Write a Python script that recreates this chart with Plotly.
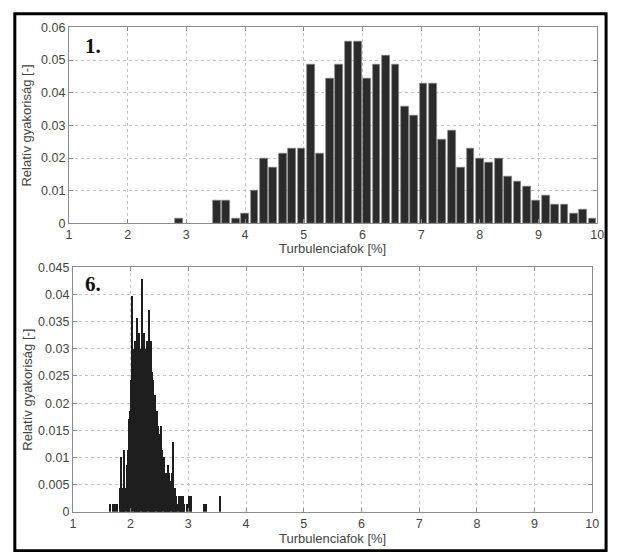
import plotly.graph_objects as go

W, H = 618, 552

# ---- Panel 1 data ----
top_x = [2.88, 3.52, 3.68, 3.84, 4.00, 4.16, 4.32, 4.48, 4.64, 4.80, 4.96, 5.12, 5.28,
         5.44, 5.60, 5.76, 5.92, 6.08, 6.24, 6.40, 6.56, 6.72, 6.88, 7.04, 7.20, 7.36,
         7.52, 7.68, 7.84, 8.00, 8.16, 8.32, 8.48, 8.64, 8.80, 8.96, 9.12, 9.28, 9.44,
         9.60, 9.76, 9.92]
top_y = [0.0014, 0.0071, 0.0071, 0.0014, 0.0029, 0.0100, 0.0200, 0.0171, 0.0214, 0.0229,
         0.0229, 0.0486, 0.0214, 0.0443, 0.0486, 0.0557, 0.0557, 0.0443, 0.0486, 0.0514,
         0.0486, 0.0357, 0.0329, 0.0429, 0.0429, 0.0257, 0.0286, 0.0171, 0.0229, 0.0200,
         0.0186, 0.0200, 0.0143, 0.0129, 0.0114, 0.0071, 0.0086, 0.0057, 0.0057, 0.0029,
         0.0043, 0.0014]

# ---- Panel 6 data ----
bot_x = [1.65, 1.69, 1.73, 1.77, 1.81, 1.83, 1.85, 1.87, 1.89, 1.91, 1.93, 1.95, 1.97,
         1.99, 2.01, 2.03, 2.05, 2.07, 2.09, 2.11, 2.13, 2.15, 2.17, 2.19, 2.21, 2.23,
         2.25, 2.27, 2.29, 2.31, 2.33, 2.35, 2.37, 2.39, 2.41, 2.43, 2.45, 2.47, 2.49,
         2.51, 2.53, 2.55, 2.57, 2.59, 2.61, 2.63, 2.65, 2.67, 2.69, 2.71, 2.73, 2.75,
         2.77, 2.79, 2.81, 2.83, 2.85, 2.87, 2.89, 2.91, 2.93, 2.97, 3.01, 3.05, 3.27,
         3.31, 3.55]
bot_y = [0.0014, 0.0014, 0.0014, 0.0014, 0.0043, 0.0100, 0.0043, 0.0043, 0.0114, 0.0043,
         0.0086, 0.0114, 0.0171, 0.0186, 0.0243, 0.0397, 0.0300, 0.0314, 0.0286, 0.0357,
         0.0300, 0.0329, 0.0300, 0.0428, 0.0300, 0.0329, 0.0271, 0.0300, 0.0314, 0.0371,
         0.0300, 0.0314, 0.0257, 0.0243, 0.0200, 0.0214, 0.0186, 0.0157, 0.0143, 0.0129,
         0.0157, 0.0114, 0.0100, 0.0071, 0.0057, 0.0071, 0.0086, 0.0071, 0.0057, 0.0071,
         0.0129, 0.0043, 0.0043, 0.0029, 0.0014, 0.0029, 0.0014, 0.0029, 0.0014, 0.0029,
         0.0014, 0.0014, 0.0029, 0.0029, 0.0014, 0.0014, 0.0029]

x_label = "Turbulenciafok [%]"
y_label = "Relatív gyakoriság [-]"
panel_labels = ["1.", "6."]

FONT = "Liberation Sans, Arial, sans-serif"
TXT = "#444444"

def px(x):
    return x / W

def py(y):
    return 1 - y / H

fig = go.Figure()
fig.add_trace(go.Bar(x=top_x, y=top_y, width=0.132, xaxis="x", yaxis="y",
                     marker=dict(color="#2b2b2b", line=dict(color="#8a8a8a", width=0.6)),
                     showlegend=False))
fig.add_trace(go.Bar(x=bot_x, y=bot_y, width=0.02, xaxis="x2", yaxis="y2",
                     marker=dict(color="#1e1e1e", line=dict(color="#808080", width=0)),
                     showlegend=False))

axis_common = dict(showline=True, linecolor="#8c8c8c", linewidth=1, mirror="ticks",
                   ticks="inside", ticklen=4, tickcolor="#8c8c8c",
                   showgrid=True, gridcolor="#c4c4c4", griddash="dot", gridwidth=1,
                   zeroline=False, tickfont=dict(family=FONT, size=12.5, color=TXT))

fig.update_layout(
    width=W, height=H, margin=dict(l=0, r=0, t=0, b=0),
    paper_bgcolor="white", plot_bgcolor="white", bargap=0,
    xaxis=dict(domain=[px(67), px(604)], range=[1, 10], dtick=1, anchor="y", **axis_common),
    yaxis=dict(domain=[py(222), py(21)], range=[0, 0.06], dtick=0.01, anchor="x", **axis_common),
    xaxis2=dict(domain=[px(71), px(599)], range=[1, 10], dtick=1, anchor="y2", **axis_common),
    yaxis2=dict(domain=[py(518), py(267)], range=[0, 0.045], dtick=0.005, anchor="x2", **axis_common),
)

ann = []
for xc, yc in [(335, 248), (335, 545)]:
    ann.append(dict(x=px(xc), y=py(yc), xref="paper", yref="paper", text=x_label,
                    xanchor="center", yanchor="middle",
                    showarrow=False, font=dict(family=FONT, size=13, color=TXT)))
for yc in [122, 393]:
    ann.append(dict(x=px(24), y=py(yc), xref="paper", yref="paper", text=y_label,
                    xanchor="center", yanchor="middle",
                    textangle=-90, showarrow=False, font=dict(family=FONT, size=13, color=TXT)))
for lab, yc in zip(panel_labels, [40, 284]):
    ann.append(dict(x=px(81), y=py(yc), xref="paper", yref="paper", text="<b>%s</b>" % lab,
                    xanchor="left", yanchor="middle", showarrow=False,
                    font=dict(family="Liberation Serif, Times New Roman, serif", size=21, color="#111111")))
fig.update_layout(annotations=ann)

fig.add_shape(type="rect", xref="paper", yref="paper",
              x0=px(12), x1=px(613), y0=py(558), y1=py(7),
              line=dict(color="black", width=3))

fig.write_html("out.html", config={"displayModeBar": False},
               post_script="document.body.style.margin='0';document.body.style.overflow='hidden';")
